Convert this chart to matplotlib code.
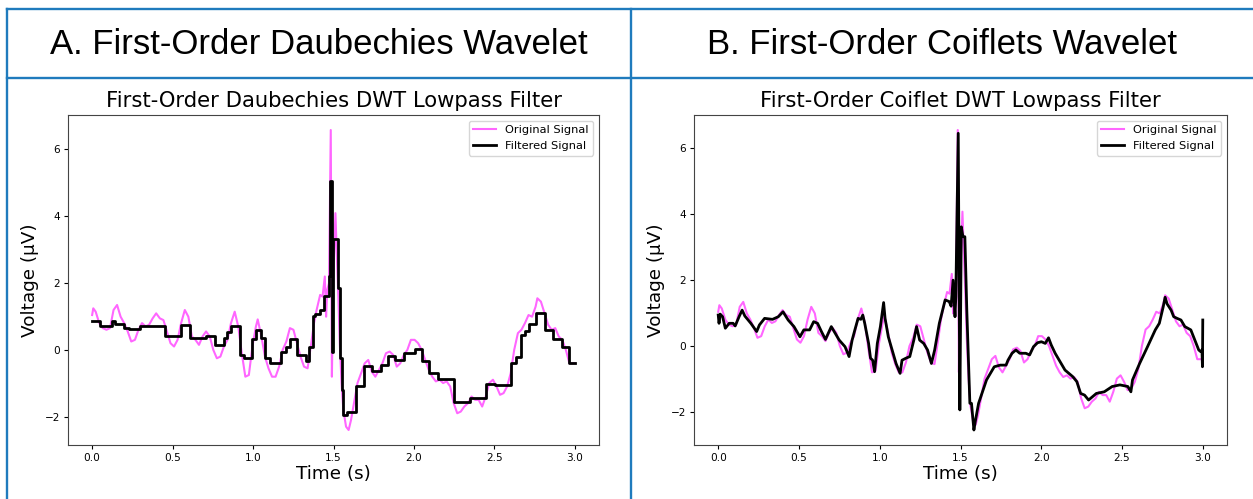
import matplotlib
matplotlib.use("Agg")
import matplotlib.pyplot as plt
from matplotlib.lines import Line2D

# ---------------- data ----------------
orig_t = [0.000, 0.007, 0.022, 0.044, 0.066, 0.089, 0.111, 0.133, 0.155, 0.177, 0.199, 0.221,
          0.243, 0.266, 0.288, 0.310, 0.332, 0.354, 0.376, 0.398, 0.421, 0.443, 0.465, 0.487,
          0.509, 0.531, 0.553, 0.576, 0.598, 0.620, 0.642, 0.664, 0.686, 0.708, 0.731, 0.753,
          0.775, 0.797, 0.819, 0.841, 0.863, 0.886, 0.908, 0.930, 0.952, 0.974, 0.996, 1.018,
          1.029, 1.052, 1.074, 1.096, 1.118, 1.140, 1.162, 1.184, 1.207, 1.229, 1.251, 1.273,
          1.295, 1.317, 1.339, 1.362, 1.379, 1.395, 1.417, 1.432, 1.446, 1.454, 1.461, 1.472,
          1.483, 1.490, 1.499, 1.512, 1.521, 1.530, 1.539, 1.550, 1.561, 1.578, 1.594, 1.609,
          1.627, 1.649, 1.671, 1.694, 1.716, 1.738, 1.760, 1.782, 1.804, 1.826, 1.849, 1.871,
          1.893, 1.915, 1.937, 1.959, 1.981, 2.004, 2.026, 2.048, 2.070, 2.092, 2.114, 2.136,
          2.159, 2.181, 2.203, 2.225, 2.247, 2.269, 2.291, 2.313, 2.336, 2.358, 2.380, 2.402,
          2.424, 2.446, 2.468, 2.491, 2.513, 2.535, 2.557, 2.579, 2.601, 2.623, 2.646, 2.668,
          2.690, 2.712, 2.734, 2.756, 2.767, 2.789, 2.812, 2.834, 2.856, 2.878, 2.900, 2.922,
          2.944, 2.966, 3.000]
orig_v = [1.04, 1.24, 1.14, 0.80, 0.65, 0.60, 0.65, 1.19, 1.34, 0.99, 0.80, 0.55,
          0.25, 0.30, 0.60, 0.80, 0.70, 0.75, 0.94, 1.09, 0.94, 0.89, 0.55, 0.20,
          0.10, 0.30, 0.80, 1.19, 0.99, 0.40, 0.30, 0.15, 0.40, 0.55, 0.40, 0.00,
          -0.25, -0.20, 0.10, 0.30, 0.80, 1.14, 0.70, -0.10, -0.80, -0.75, 0.10, 0.70,
          0.91, 0.40, -0.20, -0.55, -0.80, -0.80, -0.50, 0.00, 0.25, 0.65, 0.60, 0.20,
          -0.20, -0.50, -0.55, 0.20, 0.80, 1.19, 1.64, 1.59, 2.19, 0.99, 1.79, 1.99,
          6.56, -0.80, 2.19, 4.08, 2.78, 1.59, 0.20, -0.99, -1.79, -2.29, -2.39, -2.09,
          -1.59, -0.99, -0.70, -0.40, -0.30, -0.65, -0.80, -0.60, -0.40, -0.10, -0.05, -0.15,
          -0.50, -0.40, -0.15, 0.00, 0.30, 0.30, 0.20, 0.00, -0.30, -0.60, -0.80, -0.94,
          -0.89, -0.99, -0.94, -1.09, -1.59, -1.89, -1.84, -1.69, -1.59, -1.39, -1.49, -1.49,
          -1.69, -1.39, -0.99, -0.89, -1.09, -1.34, -1.29, -1.09, -0.70, 0.00, 0.50, 0.60,
          0.80, 1.04, 0.99, 1.29, 1.54, 1.44, 1.09, 0.75, 0.60, 0.65, 0.40, 0.30,
          0.00, -0.40, -0.40]

# Daubechies (db1) lowpass: step start times and levels
db_t = [0.000, 0.049, 0.122, 0.144, 0.199, 0.232, 0.299, 0.454, 0.553, 0.609, 0.708, 0.764,
        0.819, 0.841, 0.863, 0.919, 0.941, 0.996, 1.018, 1.052, 1.074, 1.107, 1.173, 1.207,
        1.229, 1.273, 1.328, 1.350, 1.373, 1.384, 1.417, 1.439, 1.472, 1.481, 1.488, 1.494,
        1.528, 1.539, 1.550, 1.561, 1.583, 1.638, 1.689, 1.738, 1.793, 1.838, 1.882, 1.937,
        2.004, 2.048, 2.092, 2.147, 2.247, 2.347, 2.446, 2.502, 2.601, 2.634, 2.663, 2.690,
        2.712, 2.756, 2.812, 2.867, 2.922, 2.966, 3.000]
db_v = [0.85, 0.72, 0.85, 0.78, 0.65, 0.62, 0.70, 0.40, 0.75, 0.35, 0.42, 0.15,
        0.35, 0.52, 0.70, -0.15, -0.25, 0.32, 0.58, 0.35, -0.25, -0.40, -0.05, 0.10,
        0.32, -0.15, -0.32, 0.10, 1.00, 1.07, 1.20, 1.60, 2.20, 5.04, -0.05, 3.30,
        1.85, -0.25, -1.20, -1.94, -1.84, -1.07, -0.48, -0.62, -0.45, -0.18, -0.30, -0.10,
        0.02, -0.32, -0.68, -0.87, -1.54, -1.45, -1.01, -1.05, -0.40, -0.20, 0.45, 0.55,
        0.78, 1.11, 0.60, 0.32, 0.10, -0.38, -0.38]

# Coiflet (coif1) lowpass: vertices
cf_t = [0.000, 0.005, 0.012, 0.027, 0.044, 0.068, 0.092, 0.105, 0.129, 0.148, 0.165, 0.202,
        0.238, 0.255, 0.287, 0.336, 0.372, 0.401, 0.433, 0.469, 0.506, 0.530, 0.566, 0.591,
        0.615, 0.639, 0.664, 0.700, 0.725, 0.749, 0.785, 0.810, 0.829, 0.846, 0.866, 0.883,
        0.895, 0.907, 0.931, 0.943, 0.956, 0.968, 0.985, 1.004, 1.024, 1.033, 1.053, 1.077,
        1.101, 1.126, 1.138, 1.162, 1.186, 1.211, 1.228, 1.247, 1.272, 1.296, 1.320, 1.340,
        1.369, 1.405, 1.430, 1.442, 1.454, 1.466, 1.471, 1.486, 1.496, 1.505, 1.515, 1.527,
        1.539, 1.558, 1.568, 1.583, 1.593, 1.612, 1.636, 1.661, 1.685, 1.709, 1.746, 1.782,
        1.794, 1.819, 1.843, 1.867, 1.904, 1.928, 1.952, 1.977, 2.001, 2.025, 2.045, 2.062,
        2.086, 2.123, 2.147, 2.171, 2.195, 2.220, 2.244, 2.268, 2.293, 2.317, 2.341, 2.390,
        2.439, 2.487, 2.536, 2.555, 2.565, 2.609, 2.658, 2.706, 2.731, 2.755, 2.767, 2.779,
        2.804, 2.820, 2.841, 2.865, 2.889, 2.926, 2.951, 2.975, 2.987, 2.995, 2.998, 3.000]
cf_v = [0.94, 0.69, 0.97, 0.89, 0.54, 0.69, 0.69, 0.61, 0.89, 1.09, 0.91, 0.69,
        0.44, 0.64, 0.84, 0.81, 0.89, 1.04, 0.79, 0.59, 0.28, 0.49, 0.49, 0.74,
        0.69, 0.44, 0.20, 0.59, 0.38, 0.18, -0.02, -0.32, 0.18, 0.49, 0.84, 0.81,
        0.94, 0.69, 0.08, -0.37, -0.43, -0.78, 0.08, 0.59, 1.32, 0.84, 0.28, -0.12,
        -0.53, -0.83, -0.43, -0.37, -0.32, 0.18, 0.59, 0.18, 0.08, -0.12, -0.53, -0.12,
        0.69, 1.40, 1.35, 1.21, 2.00, 0.89, 1.50, 6.46, -1.94, 3.62, 3.32, 3.32,
        1.09, -1.74, -1.74, -2.55, -2.25, -1.74, -1.39, -1.03, -0.83, -0.63, -0.58, -0.58,
        -0.43, -0.22, -0.12, -0.22, -0.22, -0.27, -0.02, 0.10, 0.13, 0.08, 0.25, 0.03,
        -0.22, -0.53, -0.73, -0.83, -0.93, -1.08, -1.44, -1.49, -1.64, -1.54, -1.44, -1.39,
        -1.23, -1.18, -1.23, -1.39, -1.03, -0.53, -0.02, 0.49, 0.69, 1.19, 1.48, 1.28,
        1.09, 0.89, 0.84, 0.79, 0.59, 0.49, 0.18, -0.12, -0.17, -0.12, -0.63, 0.79]

headers = ["A. First-Order Daubechies Wavelet", "B. First-Order Coiflets Wavelet"]
titles = ["First-Order Daubechies DWT Lowpass Filter", "First-Order Coiflet DWT Lowpass Filter"]
xlabel = "Time (s)"
ylabel = "Voltage (\u00b5V)"
legend_labels = ["Original Signal", "Filtered Signal"]

# ---------------- figure ----------------
W, H = 1253, 499
fig = plt.figure(figsize=(W / 100, H / 100), dpi=100)
fig.patch.set_facecolor("white")

blue = "#1f7bbd"
def px(x, y):
    return x / W, 1 - y / H

# table border lines
for (x0, y0, x1, y1) in [(6.7, 9.3, W, 9.3), (6.7, 77.8, W, 77.8),
                         (6.7, 9.3, 6.7, H), (630.8, 9.3, 630.8, H)]:
    a, b = px(x0, y0)
    c, d = px(x1, y1)
    fig.add_artist(Line2D([a, c], [b, d], color=blue, lw=1.7, transform=fig.transFigure,
                          solid_capstyle="projecting"))

for hx, txt in [(319, headers[0]), (942, headers[1])]:
    a, b = px(hx, 44)
    fig.text(a, b, txt, ha="center", va="center", fontsize=25,
             family="Liberation Sans", color="black")

axes_px = [(68, 599), (694, 1227)]
top, bottom = 115, 445
series = [(db_t, db_v, "steps-post"), (cf_t, cf_v, "default")]

for i, ((x0, x1), (ft, fv, ds)) in enumerate(zip(axes_px, series)):
    ax = fig.add_axes([x0 / W, 1 - bottom / H, (x1 - x0) / W, (bottom - top) / H])
    ax.plot(orig_t, orig_v, color="magenta", alpha=0.6, lw=1.5, label=legend_labels[0])
    ax.plot(ft, fv, color="black", lw=2.0, drawstyle=ds, label=legend_labels[1])
    ax.set_title(titles[i], fontsize=15.2, pad=6)
    ax.set_xlabel(xlabel, fontsize=13.2, labelpad=2)
    ax.set_ylabel(ylabel, fontsize=13.2, labelpad=4)
    ax.tick_params(labelsize=7.6, length=3, width=0.8, pad=2.5)
    ax.set_xticks([0.0, 0.5, 1.0, 1.5, 2.0, 2.5, 3.0])
    for s in ax.spines.values():
        s.set_color("#444444")
        s.set_linewidth(0.8)
    ax.legend(loc="upper right", fontsize=8.2, framealpha=0.8, edgecolor="#cccccc",
              handlelength=2.0, borderpad=0.4, labelspacing=0.5)

fig.savefig("out.png", dpi=100)
